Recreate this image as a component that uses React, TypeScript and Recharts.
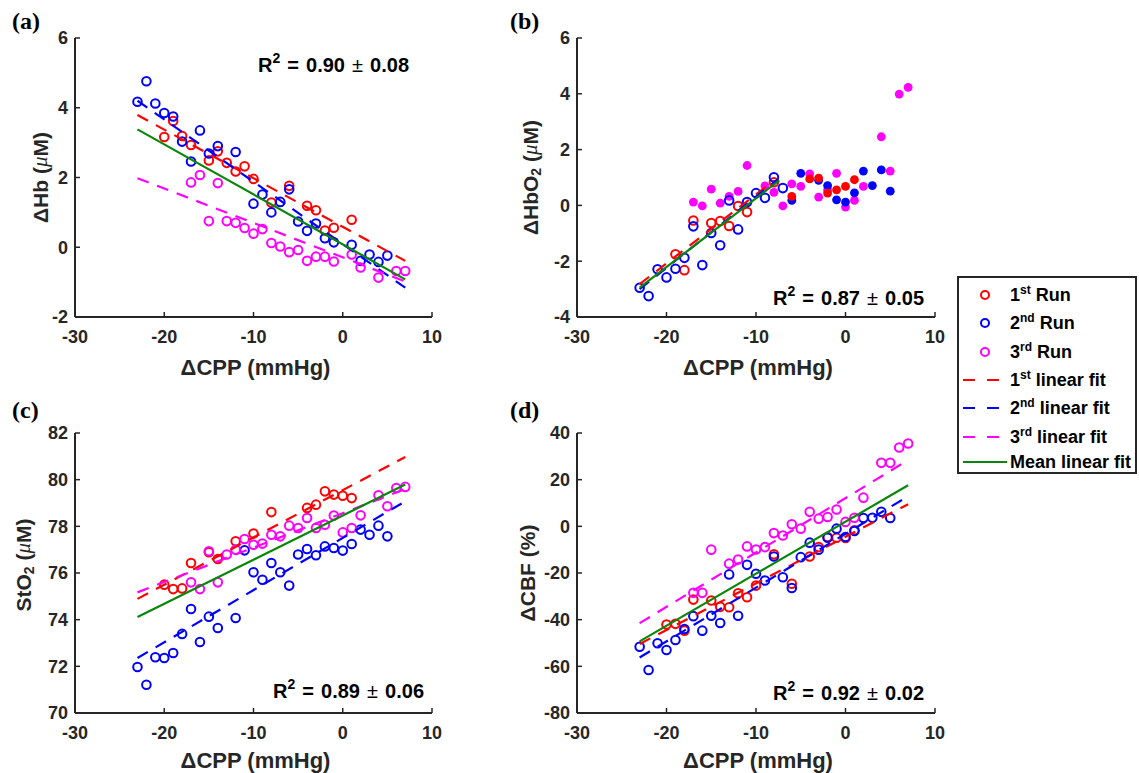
import React from 'react';
import { ScatterChart, Scatter, XAxis, YAxis } from 'recharts';

type Pt = [number, number];

// ---------- tick labels ----------
const xTicks = [-30, -20, -10, 0, 10];
const aYTicks = [-2, 0, 2, 4, 6];
const bYTicks = [-4, -2, 0, 2, 4, 6];
const cYTicks = [70, 72, 74, 76, 78, 80, 82];
const dYTicks = [-80, -60, -40, -20, 0, 20, 40];

// ---------- (a) ΔHb ----------
const aRun1: Pt[] = [[-20, 3.16], [-19, 3.62], [-18, 3.19], [-17, 2.93], [-15, 2.49], [-14, 2.75], [-13, 2.42], [-12, 2.17], [-11, 2.32], [-10, 1.96], [-8, 1.28], [-6, 1.76], [-4, 1.19], [-3, 1.06], [-2, 0.48], [-1, 0.56], [1, 0.79]];
const aRun2: Pt[] = [[-23, 4.17], [-22, 4.76], [-21, 4.12], [-20, 3.85], [-19, 3.75], [-18, 3.03], [-17, 2.46], [-16, 3.35], [-15, 2.69], [-14, 2.9], [-12, 2.73], [-10, 1.25], [-9, 1.51], [-8, 1.0], [-7, 1.3], [-6, 1.66], [-5, 0.74], [-4, 0.47], [-3, 0.68], [-2, 0.26], [-1, 0.14], [1, 0.07], [2, -0.39], [3, -0.21], [4, -0.42], [5, -0.24]];
const aRun3: Pt[] = [[-17, 1.86], [-16, 2.07], [-15, 0.75], [-14, 1.84], [-13, 0.75], [-12, 0.7], [-11, 0.55], [-10, 0.39], [-9, 0.52], [-8, 0.12], [-7, 0.02], [-6, -0.14], [-5, -0.08], [-4, -0.39], [-3, -0.27], [-2, -0.27], [-1, -0.41], [1, -0.21], [2, -0.58], [4, -0.87], [6, -0.68], [7, -0.68]];
const aFit1: Pt[] = [[-23, 3.79], [7, -0.39]];
const aFit2: Pt[] = [[-23, 4.2], [7, -1.16]];
const aFit3: Pt[] = [[-23, 1.98], [7, -0.98]];
const aFitMean: Pt[] = [[-23, 3.38], [7, -0.92]];

// ---------- (b) ΔHbO2 ----------
const bRun1Open: Pt[] = [[-19, -1.75], [-18, -2.32], [-17, -0.54], [-15, -0.63], [-14, -0.56], [-13, -0.74], [-12, -0.02], [-11, -0.24], [-8, 0.83]];
const bRun1Dot: Pt[] = [[-6, 0.32], [-4, 0.95], [-3, 0.98], [-2, 0.44], [-1, 0.56], [0, 0.68], [1, 0.92]];
const bRun2Open: Pt[] = [[-23, -2.95], [-22, -3.25], [-21, -2.29], [-20, -2.58], [-19, -2.27], [-18, -1.88], [-17, -0.75], [-16, -2.14], [-15, -0.99], [-14, -1.43], [-13, 0.18], [-12, -0.86], [-11, 0.12], [-10, 0.44], [-9, 0.27], [-8, 1.01], [-7, 0.62]];
const bRun2Dot: Pt[] = [[-6, 0.18], [-5, 1.15], [-3, 0.9], [-2, 0.71], [-1, 0.2], [0, 0.12], [1, 0.45], [2, 1.23], [3, 0.71], [4, 1.27], [5, 0.51]];
const bRun3Dot: Pt[] = [[-17, 0.12], [-16, -0.02], [-15, 0.58], [-14, 0.08], [-13, 0.32], [-12, 0.5], [-11, 1.43], [-9, 0.7], [-8, 0.47], [-7, -0.02], [-6, 0.77], [-5, 0.68], [-4, 1.13], [-3, 0.3], [-2, 0.56], [-1, 1.15], [0, -0.06], [1, 0.18], [2, 0.68], [4, 2.46], [5, 1.23], [6, 3.99], [7, 4.23]];
const bFit1: Pt[] = [[-23, -2.82], [-8, 0.89]];
const bFit2: Pt[] = [[-23, -3.0], [-7.5, 0.95]];
const bFitMean: Pt[] = [[-23, -2.95], [-7.4, 0.9]];

// ---------- (c) StO2 ----------
const cRun1: Pt[] = [[-20, 75.5], [-19, 75.31], [-18, 75.34], [-17, 76.43], [-15, 76.89], [-14, 76.6], [-12, 77.36], [-10, 77.69], [-8, 78.61], [-4, 78.79], [-3, 78.93], [-2, 79.5], [-1, 79.36], [0, 79.31], [1, 79.21]];
const cRun2: Pt[] = [[-23, 71.97], [-22, 71.21], [-21, 72.39], [-20, 72.36], [-19, 72.57], [-18, 73.39], [-17, 74.46], [-16, 73.04], [-15, 74.13], [-14, 73.64], [-12, 74.07], [-11, 76.97], [-10, 76.03], [-9, 75.71], [-8, 76.43], [-7, 76.03], [-6, 75.46], [-5, 76.79], [-4, 77.03], [-3, 76.76], [-2, 77.14], [-1, 77.07], [0, 76.96], [1, 77.24], [2, 77.86], [3, 77.64], [4, 78.03], [5, 77.57]];
const cRun3: Pt[] = [[-17, 75.6], [-16, 75.31], [-15, 76.93], [-14, 75.6], [-13, 76.79], [-12, 77.0], [-11, 77.46], [-10, 77.21], [-9, 77.26], [-8, 77.64], [-7, 77.57], [-6, 78.03], [-5, 77.93], [-4, 78.36], [-3, 77.93], [-2, 78.07], [-1, 78.46], [0, 77.74], [1, 77.93], [2, 78.47], [4, 79.33], [5, 78.86], [6, 79.64], [7, 79.69]];
const cFit1: Pt[] = [[-23, 74.89], [7, 80.97]];
const cFit2: Pt[] = [[-23, 72.36], [7, 79.07]];
const cFit3: Pt[] = [[-23, 75.17], [7, 79.6]];
const cFitMean: Pt[] = [[-23, 74.11], [7, 79.79]];

// ---------- (d) ΔCBF ----------
const dRun1: Pt[] = [[-20, -42.1], [-19, -41.8], [-18, -44.7], [-17, -31.4], [-15, -31.8], [-14, -34.5], [-13, -34.7], [-12, -28.7], [-11, -30.4], [-10, -25.4], [-8, -12], [-6, -24.6], [-4, -12.9], [-3, -8.9], [-2, -4.6], [-1, -4.9], [0, -5], [1, -1.7]];
const dRun2: Pt[] = [[-23, -51.6], [-22, -61.6], [-21, -50.1], [-20, -53], [-19, -48.7], [-18, -44], [-17, -38.5], [-16, -44.7], [-15, -38.3], [-14, -41.4], [-13, -20.6], [-12, -38.3], [-11, -16.5], [-10, -20.3], [-9, -23.2], [-8, -12.9], [-7, -21.8], [-6, -26.4], [-5, -13.2], [-4, -7], [-3, -10], [-2, -4.9], [-1, -1], [0, -4.6], [1, -2], [2, 3.6], [3, 3.7], [4, 6.2], [5, 3.6]];
const dRun3: Pt[] = [[-17, -28.5], [-16, -28.5], [-15, -10], [-13, -16], [-12, -14.2], [-11, -8.6], [-10, -9.9], [-9, -8.9], [-8, -2.9], [-7, -3.9], [-6, 0.9], [-5, -1], [-4, 6.2], [-3, 3.3], [-2, 4], [-1, 7.2], [0, 1.9], [1, 3.7], [2, 12.3], [4, 27.2], [5, 27.2], [6, 33.8], [7, 35.5]];
const dFit1: Pt[] = [[-23, -50.4], [7, 9.5]];
const dFit2: Pt[] = [[-23, -56.2], [7, 12.9]];
const dFit3: Pt[] = [[-23, -41.5], [7, 28.4]];
const dFitMean: Pt[] = [[-23, -49.3], [7, 17.6]];

// ---------- styles ----------
const RED = '#FF0000';
const BLUE = '#0000FF';
const MAG = '#FF00FF';
const GREEN = '#0A870A';
const AXIS = '#262626';
const FONT = "'Liberation Sans', Arial, Helvetica, sans-serif";
const SERIF = "'Liberation Serif', 'Times New Roman', serif";
const DASH = '12 9';

const toXY = (arr: Pt[]) => arr.map(([x, y]) => ({ x, y }));

const openShape = (color: string) => (p: any) => (
  <circle cx={p.cx} cy={p.cy} r={4.3} fill="none" stroke={color} strokeWidth={2} />
);
const dotShape = (color: string) => (p: any) => (
  <circle cx={p.cx} cy={p.cy} r={4.4} fill={color} stroke="none" />
);
const noShape = () => <g />;

const YTick = (props: any) => {
  const { x, y, payload } = props;
  return (
    <g>
      <line x1={x} x2={x + 5} y1={y} y2={y} stroke={AXIS} strokeWidth={1.5} />
      <text x={x - 7} y={y} dy="0.36em" textAnchor="end" fontFamily={FONT} fontWeight="bold" fontSize={18} fill={AXIS}>
        {payload.value}
      </text>
    </g>
  );
};

const XTick = (props: any) => {
  const { x, y, payload } = props;
  return (
    <g>
      <line x1={x} x2={x} y1={y} y2={y - 5} stroke={AXIS} strokeWidth={1.5} />
      <text x={x} y={y + 26} textAnchor="middle" fontFamily={FONT} fontWeight="bold" fontSize={18} fill={AXIS}>
        {payload.value}
      </text>
    </g>
  );
};

type SeriesDef = { data: Pt[]; color: string; filled?: boolean };
type FitDef = { data: Pt[]; color: string; dashed: boolean };

type PanelProps = {
  left: number;
  top: number;
  width: number;
  height: number;
  marginTop: number;
  marginRight: number;
  yAxisWidth: number;
  xAxisHeight: number;
  yDomain: [number, number];
  yTicks: number[];
  series: SeriesDef[];
  fits: FitDef[];
  yTitle: React.ReactNode;
  yTitleX: number;
  yTitleDy: number;
  xTitleDy: number;
};

function Panel(p: PanelProps) {
  const yLabel = (lp: any) => {
    const vb = lp.viewBox || { x: 0, y: 0, width: 0, height: 0 };
    const cx = vb.x + p.yTitleX;
    const cy = vb.y + vb.height / 2 + p.yTitleDy;
    return (
      <text
        x={cx}
        y={cy}
        transform={`rotate(-90 ${cx} ${cy})`}
        textAnchor="middle"
        dominantBaseline="central"
        fontFamily={FONT}
        fontWeight="bold"
        fontSize={21}
        fill={AXIS}
      >
        {p.yTitle}
      </text>
    );
  };
  const xLabel = (lp: any) => {
    const vb = lp.viewBox || { x: 0, y: 0, width: 0, height: 0 };
    return (
      <text
        x={vb.x + vb.width / 2 + 2}
        y={vb.y + p.xTitleDy}
        textAnchor="middle"
        fontFamily={FONT}
        fontWeight="bold"
        fontSize={22}
        fill={AXIS}
      >
        {'\u0394CPP (mmHg)'}
      </text>
    );
  };
  return (
    <div style={{ position: 'absolute', left: p.left, top: p.top }}>
      <ScatterChart
        width={p.width}
        height={p.height}
        margin={{ top: p.marginTop, right: p.marginRight, bottom: 0, left: 0 }}
      >
        <XAxis
          type="number"
          dataKey="x"
          domain={[-30, 10]}
          ticks={xTicks}
          allowDataOverflow
          height={p.xAxisHeight}
          tickSize={0}
          tickMargin={0}
          tickLine={false}
          axisLine={{ stroke: AXIS, strokeWidth: 2 }}
          tick={XTick}
          label={xLabel}
        />
        <YAxis
          type="number"
          dataKey="y"
          domain={p.yDomain}
          ticks={p.yTicks}
          allowDataOverflow
          width={p.yAxisWidth}
          tickSize={0}
          tickMargin={0}
          tickLine={false}
          axisLine={{ stroke: AXIS, strokeWidth: 2 }}
          tick={YTick}
          label={yLabel}
        />
        {p.series.map((s, i) => (
          <Scatter
            key={'s' + i}
            data={toXY(s.data)}
            isAnimationActive={false}
            shape={s.filled ? dotShape(s.color) : openShape(s.color)}
          />
        ))}
        {p.fits.map((f, i) => (
          <Scatter
            key={'f' + i}
            data={toXY(f.data)}
            isAnimationActive={false}
            shape={noShape}
            line={{ stroke: f.color, strokeWidth: 2.2, strokeDasharray: f.dashed ? DASH : undefined, fill: 'none' }}
          />
        ))}
      </ScatterChart>
    </div>
  );
}

const Sup = ({ t, rest }: { t: string; rest: string }) => (
  <>
    <tspan dy={-7} fontSize={12}>{t}</tspan>
    <tspan dy={7}>{rest}</tspan>
  </>
);

const mu = <tspan fontStyle="italic" fontWeight="normal" fontFamily={SERIF}>{'\u03BC'}</tspan>;

function R2({ x, y, r, sd }: { x: number; y: number; r: string; sd: string }) {
  return (
    <text x={x} y={y} fontFamily={FONT} fontWeight="bold" fontSize={20} fill="#000" wordSpacing={1.5}>
      R
      <tspan dy={-9} fontSize={14}>2</tspan>
      <tspan dy={9}>{` = ${r} `}</tspan>
      <tspan fontWeight="normal">{'\u00B1'}</tspan>
      <tspan>{` ${sd}`}</tspan>
    </text>
  );
}

function Legend() {
  const rows = [295, 323, 352, 380, 408, 437, 462];
  const tx = 1010;
  const ts = { fontFamily: FONT, fontWeight: 'bold' as const, fontSize: 18, fill: '#000' };
  return (
    <g>
      <rect x={958} y={277} width={178} height={196} fill="#fff" stroke={AXIS} strokeWidth={2} />
      <circle cx={985} cy={rows[0]} r={4} fill="none" stroke={RED} strokeWidth={2} />
      <circle cx={985} cy={rows[1]} r={4} fill="none" stroke={BLUE} strokeWidth={2} />
      <circle cx={985} cy={rows[2]} r={4} fill="none" stroke={MAG} strokeWidth={2} />
      <line x1={963} x2={1007} y1={rows[3]} y2={rows[3]} stroke={RED} strokeWidth={2.2} strokeDasharray="12 12" />
      <line x1={963} x2={1007} y1={rows[4]} y2={rows[4]} stroke={BLUE} strokeWidth={2.2} strokeDasharray="12 12" />
      <line x1={963} x2={1007} y1={rows[5]} y2={rows[5]} stroke={MAG} strokeWidth={2.2} strokeDasharray="12 12" />
      <line x1={963} x2={1007} y1={rows[6]} y2={rows[6]} stroke={GREEN} strokeWidth={2.2} />
      <text x={tx} y={rows[0] + 6} {...ts}>1<Sup t="st" rest=" Run" /></text>
      <text x={tx} y={rows[1] + 6} {...ts}>2<Sup t="nd" rest=" Run" /></text>
      <text x={tx} y={rows[2] + 6} {...ts}>3<Sup t="rd" rest=" Run" /></text>
      <text x={tx} y={rows[3] + 6} {...ts}>1<Sup t="st" rest=" linear fit" /></text>
      <text x={tx} y={rows[4] + 6} {...ts}>2<Sup t="nd" rest=" linear fit" /></text>
      <text x={tx} y={rows[5] + 6} {...ts}>3<Sup t="rd" rest=" linear fit" /></text>
      <text x={tx} y={rows[6] + 6} {...ts}>Mean linear fit</text>
    </g>
  );
}

export default function App() {
  const topGeo = { top: 0, height: 395, marginTop: 38, xAxisHeight: 78, xTitleDy: 58 };
  const botGeo = { top: 395, height: 378, marginTop: 38, xAxisHeight: 60, xTitleDy: 55 };
  const leftGeo = { left: 0, width: 462, marginRight: 30, yAxisWidth: 75 };
  const rightGeo = { left: 490, width: 470, marginRight: 25, yAxisWidth: 87 };
  const letter = { fontFamily: SERIF, fontWeight: 'bold' as const, fontSize: 24, fill: '#000' };
  return (
    <div style={{ position: 'absolute', left: 0, top: 0, width: 1139, height: 773, background: '#fff', overflow: 'hidden' }}>
      <Panel
        {...topGeo}
        {...leftGeo}
        yDomain={[-2, 6]}
        yTicks={aYTicks}
        series={[{ data: aRun1, color: RED }, { data: aRun2, color: BLUE }, { data: aRun3, color: MAG }]}
        fits={[
          { data: aFit1, color: RED, dashed: true },
          { data: aFit2, color: BLUE, dashed: true },
          { data: aFit3, color: MAG, dashed: true },
          { data: aFitMean, color: GREEN, dashed: false },
        ]}
        yTitle={<>{'\u0394Hb ('}{mu}{'M)'}</>}
        yTitleX={40}
        yTitleDy={0}
      />
      <Panel
        {...topGeo}
        {...rightGeo}
        yDomain={[-4, 6]}
        yTicks={bYTicks}
        series={[
          { data: bRun3Dot, color: MAG, filled: true },
          { data: bRun2Dot, color: BLUE, filled: true },
          { data: bRun1Dot, color: RED, filled: true },
          { data: bRun1Open, color: RED },
          { data: bRun2Open, color: BLUE },
        ]}
        fits={[
          { data: bFit1, color: RED, dashed: true },
          { data: bFit2, color: BLUE, dashed: true },
          { data: bFitMean, color: GREEN, dashed: false },
        ]}
        yTitle={<>{'\u0394HbO'}<tspan dy={6} fontSize={14}>2</tspan><tspan dy={-6}>{' ('}</tspan>{mu}{'M)'}</>}
        yTitleX={40}
        yTitleDy={0}
      />
      <Panel
        {...botGeo}
        {...leftGeo}
        yDomain={[70, 82]}
        yTicks={cYTicks}
        series={[{ data: cRun1, color: RED }, { data: cRun2, color: BLUE }, { data: cRun3, color: MAG }]}
        fits={[
          { data: cFit1, color: RED, dashed: true },
          { data: cFit2, color: BLUE, dashed: true },
          { data: cFit3, color: MAG, dashed: true },
          { data: cFitMean, color: GREEN, dashed: false },
        ]}
        yTitle={<>{'StO'}<tspan dy={6} fontSize={14}>2</tspan><tspan dy={-6}>{' ('}</tspan>{mu}{'M)'}</>}
        yTitleX={23}
        yTitleDy={-8}
      />
      <Panel
        {...botGeo}
        {...rightGeo}
        yDomain={[-80, 40]}
        yTicks={dYTicks}
        series={[{ data: dRun1, color: RED }, { data: dRun2, color: BLUE }, { data: dRun3, color: MAG }]}
        fits={[
          { data: dFit1, color: RED, dashed: true },
          { data: dFit2, color: BLUE, dashed: true },
          { data: dFit3, color: MAG, dashed: true },
          { data: dFitMean, color: GREEN, dashed: false },
        ]}
        yTitle={'\u0394CBF (%)'}
        yTitleX={37}
        yTitleDy={0}
      />
      <svg width={1139} height={773} style={{ position: 'absolute', left: 0, top: 0, pointerEvents: 'none' }}>
        <text x={12} y={29} {...letter}>(a)</text>
        <text x={510} y={29} {...letter}>(b)</text>
        <text x={12} y={418} {...letter}>(c)</text>
        <text x={510} y={418} {...letter}>(d)</text>
        <R2 x={258} y={72} r="0.90" sd="0.08" />
        <R2 x={773} y={305} r="0.87" sd="0.05" />
        <R2 x={273} y={698} r="0.89" sd="0.06" />
        <R2 x={773} y={700} r="0.92" sd="0.02" />
        <Legend />
      </svg>
    </div>
  );
}
